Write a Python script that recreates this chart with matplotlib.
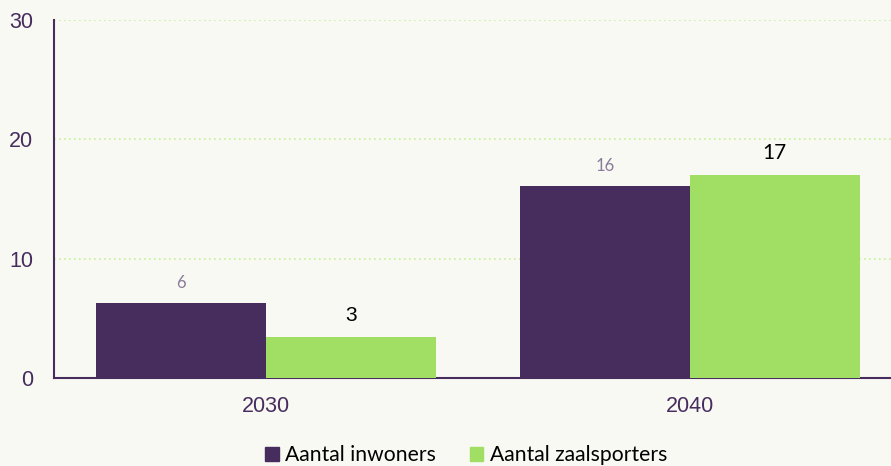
import matplotlib.pyplot as plt
from matplotlib.patches import Patch
import numpy as np

years = ["2030", "2040"]
inwoners = [6.3, 16.1]
zaalsporters = [3.4, 17.0]
inwoners_labels = ["6", "16"]
zaalsporters_labels = ["3", "17"]

BG = "#f9f9f4"
PURPLE = "#472c5e"
GREEN = "#a1de64"

fig = plt.figure(figsize=(8.91, 4.66), dpi=100, facecolor=BG)
ax = fig.add_axes([54 / 891, 88 / 466, 837 / 891, 358 / 466], facecolor=BG)

x = np.arange(len(years))
w = 0.4
b1 = ax.bar(x - w / 2, inwoners, width=w, color=PURPLE, zorder=3)
b2 = ax.bar(x + w / 2, zaalsporters, width=w, color=GREEN, zorder=3)

for rect, lab in zip(b1, inwoners_labels):
    ax.text(rect.get_x() + rect.get_width() / 2, rect.get_height() + 1.0, lab,
            ha="center", va="bottom", fontsize=12, family="Lato",
            color="#8a7a99")
fams = ["Liberation Sans", "Lato"]
for rect, lab, fam in zip(b2, zaalsporters_labels, fams):
    ax.text(rect.get_x() + rect.get_width() / 2, rect.get_height() + 1.0, lab,
            ha="center", va="bottom", fontsize=15, family=fam, color="black")

ax.set_xlim(-0.5, 1.474)
ax.set_ylim(0, 30)
ax.set_yticks([0, 10, 20, 30])
ax.set_xticks(x)
ax.set_xticklabels(years)
ax.tick_params(length=0, labelsize=15.5, labelcolor=PURPLE)
ax.tick_params(axis="x", pad=13)
ax.tick_params(axis="y", pad=15)
for t in ax.get_xticklabels() + ax.get_yticklabels():
    t.set_family("Liberation Sans")

ax.grid(axis="y", color="#c8ee9a", linestyle=(0, (1, 2)), linewidth=1.2, zorder=0)
for s in ["top", "right"]:
    ax.spines[s].set_visible(False)
for s in ["left", "bottom"]:
    ax.spines[s].set_color(PURPLE)
    ax.spines[s].set_linewidth(1.5)

handles = [Patch(color=PURPLE, label="Aantal inwoners"),
           Patch(color=GREEN, label="Aantal zaalsporters")]
fig.legend(handles=handles, loc="center", bbox_to_anchor=(466 / 891, 1 - 455 / 466),
           ncol=2, frameon=False, prop={"family": "Lato", "size": 15.2},
           handlelength=0.65, handleheight=0.65, handletextpad=0.3, columnspacing=1.6)

fig.savefig("out.png", dpi=100, facecolor=BG)
